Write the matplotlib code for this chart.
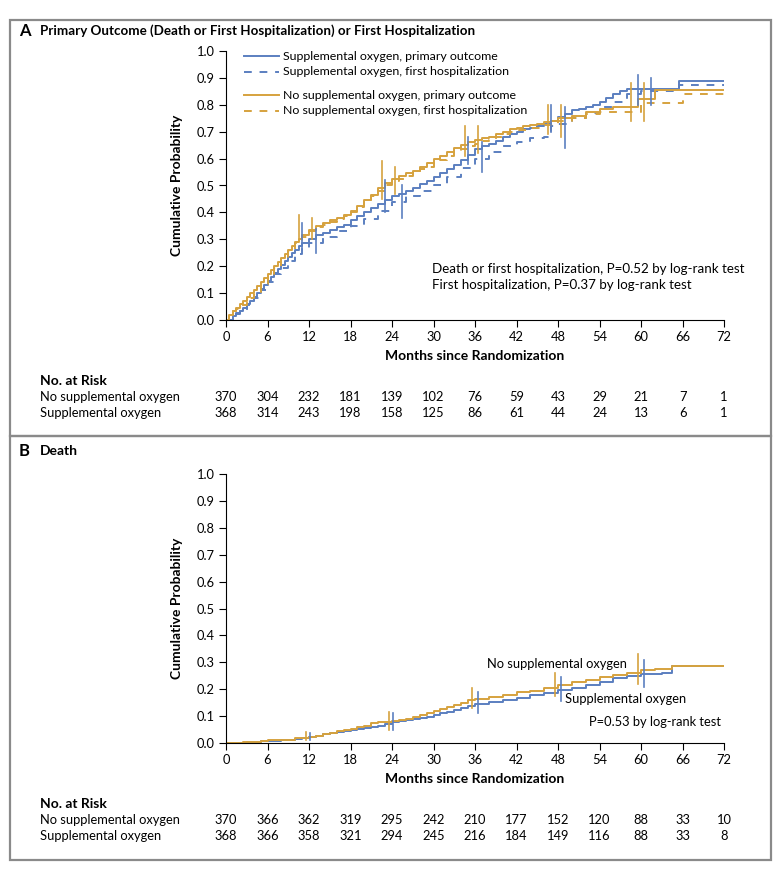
import numpy as np
import matplotlib.pyplot as plt
from matplotlib.patches import Rectangle
from matplotlib.lines import Line2D
import matplotlib.transforms as mtransforms

plt.rcParams['font.family'] = ['Lato', 'DejaVu Sans']

BLUE = '#5b7fc0'
ORANGE = '#d6a23e'

# ---- Panel A data (months, cumulative probability) ----
a_no_prim_t = [0, 0.5, 1, 1.5, 2, 2.5, 3, 3.5, 4, 4.5, 5, 5.5, 6, 6.5, 7, 7.5, 8, 8.5, 9, 9.5, 10,
               10.5, 11, 12, 13, 14, 15, 16, 17, 18, 19, 20, 21, 22, 23, 24, 25, 26, 27, 28, 29, 30,
               31, 32, 33, 34, 35, 36, 37, 38, 39, 40, 41, 42, 43, 44, 45, 46, 47, 48, 50, 52, 54,
               56, 59.5, 62, 72]
a_no_prim_p = [0, 0.02, 0.035, 0.045, 0.06, 0.07, 0.085, 0.10, 0.11, 0.125, 0.14, 0.155, 0.17, 0.185,
               0.20, 0.215, 0.23, 0.245, 0.26, 0.275, 0.29, 0.30, 0.315, 0.335, 0.35, 0.36, 0.37, 0.38,
               0.39, 0.405, 0.425, 0.445, 0.465, 0.49, 0.51, 0.525, 0.535, 0.545, 0.555, 0.57, 0.585,
               0.60, 0.61, 0.625, 0.64, 0.65, 0.66, 0.67, 0.675, 0.68, 0.69, 0.70, 0.71, 0.715, 0.72,
               0.725, 0.73, 0.735, 0.74, 0.75, 0.76, 0.775, 0.785, 0.79, 0.82, 0.855, 0.855]

a_no_hosp_t = [0, 0.5, 1, 1.5, 2, 3, 4, 5, 6, 7, 8, 9, 10, 11, 12, 13, 14, 15, 16, 17, 18, 19, 20,
               21, 22, 23, 24, 25, 26, 27, 28, 29, 30, 31, 32, 33, 34, 35, 36, 37, 38, 39, 40, 41,
               42, 44, 46, 48, 50, 52, 54, 58, 60, 66, 72]
a_no_hosp_p = [0, 0.018, 0.032, 0.042, 0.055, 0.08, 0.105, 0.135, 0.165, 0.195, 0.225, 0.255, 0.285,
               0.31, 0.33, 0.345, 0.355, 0.365, 0.375, 0.385, 0.40, 0.42, 0.44, 0.46, 0.48, 0.50,
               0.515, 0.525, 0.535, 0.545, 0.56, 0.57, 0.585, 0.595, 0.61, 0.625, 0.635, 0.645, 0.655,
               0.665, 0.67, 0.68, 0.69, 0.70, 0.705, 0.715, 0.725, 0.74, 0.75, 0.765, 0.775, 0.775,
               0.805, 0.84, 0.84]

a_sup_prim_t = [0, 1, 1.5, 2, 2.5, 3, 3.5, 4, 4.5, 5, 5.5, 6, 6.5, 7, 7.5, 8, 8.5, 9, 9.5, 10, 10.5,
                11, 12, 13, 14, 15, 16, 17, 18, 19, 20, 21, 22, 23, 24, 25, 26, 27, 28, 29, 30, 31,
                32, 33, 34, 35, 36, 37, 38, 39, 40, 41, 42, 43, 44, 45, 46, 47, 48, 49, 50, 51, 52,
                53, 54, 55, 56, 57, 58, 65.5, 72]
a_sup_prim_p = [0, 0.015, 0.025, 0.035, 0.045, 0.06, 0.07, 0.085, 0.10, 0.115, 0.13, 0.145, 0.16, 0.175,
                0.19, 0.205, 0.22, 0.235, 0.25, 0.26, 0.275, 0.285, 0.30, 0.315, 0.325, 0.335, 0.345,
                0.355, 0.37, 0.385, 0.40, 0.415, 0.43, 0.445, 0.46, 0.47, 0.48, 0.49, 0.505, 0.515,
                0.53, 0.545, 0.56, 0.575, 0.595, 0.615, 0.635, 0.645, 0.655, 0.665, 0.68, 0.69, 0.70,
                0.71, 0.715, 0.72, 0.73, 0.74, 0.755, 0.765, 0.78, 0.785, 0.79, 0.80, 0.81, 0.825,
                0.84, 0.85, 0.86, 0.89, 0.89]

a_sup_hosp_t = [0, 1, 1.5, 2, 3, 4, 5, 6, 7, 8, 9, 10, 11, 12, 14, 16, 18, 20, 22, 24, 26, 28, 30,
                32, 34, 36, 38, 40, 42, 44, 46, 47, 48, 50, 52, 54, 56, 58, 60, 65.5, 72]
a_sup_hosp_p = [0, 0.012, 0.022, 0.032, 0.055, 0.08, 0.11, 0.14, 0.17, 0.195, 0.22, 0.245, 0.265,
                0.285, 0.31, 0.33, 0.35, 0.375, 0.405, 0.44, 0.46, 0.48, 0.50, 0.53, 0.565, 0.60,
                0.625, 0.645, 0.66, 0.675, 0.68, 0.72, 0.73, 0.75, 0.77, 0.79, 0.81, 0.84, 0.85,
                0.875, 0.875]

# 95% CI bars (month, low, high)
a_no_prim_ci = [(10.5, 0.30, 0.39), (22.5, 0.45, 0.59), (34.5, 0.61, 0.72), (46.5, 0.69, 0.80), (58.5, 0.74, 0.88)]
a_no_hosp_ci = [(12.5, 0.30, 0.38), (24.5, 0.47, 0.57), (36.5, 0.62, 0.72), (48.5, 0.68, 0.80), (60.5, 0.74, 0.88)]
a_sup_prim_ci = [(11.0, 0.26, 0.36), (23.0, 0.40, 0.52), (35.0, 0.58, 0.68), (47.0, 0.70, 0.80), (59.5, 0.80, 0.91)]
a_sup_hosp_ci = [(13.0, 0.25, 0.34), (25.5, 0.38, 0.50), (37.0, 0.55, 0.66), (49.0, 0.64, 0.79), (61.5, 0.80, 0.90)]

# ---- Panel B data ----
b_no_t = [0, 2.5, 3.5, 5, 6, 8, 10, 11, 12, 13, 14, 15, 16, 17, 18, 19, 20, 21, 22, 23, 24, 25, 26,
          27, 28, 29, 30, 31, 32, 33, 34, 35, 36, 38, 40, 42, 44, 46, 48, 50, 52, 54, 56, 58, 60,
          62, 64.5, 72]
b_no_p = [0, 0.002, 0.005, 0.008, 0.01, 0.013, 0.017, 0.02, 0.022, 0.027, 0.032, 0.038, 0.043, 0.047,
          0.052, 0.058, 0.065, 0.075, 0.077, 0.078, 0.08, 0.084, 0.09, 0.097, 0.104, 0.11, 0.118,
          0.126, 0.134, 0.142, 0.15, 0.158, 0.165, 0.172, 0.178, 0.188, 0.195, 0.205, 0.215, 0.225,
          0.235, 0.245, 0.252, 0.26, 0.27, 0.275, 0.288, 0.288]

b_sup_t = [0, 3, 4, 5, 6, 8, 10, 11, 12, 13, 14, 15, 16, 17, 18, 19, 20, 21, 22, 23, 24, 25, 26,
           27, 28, 29, 30, 31, 32, 33, 34, 35, 36, 38, 40, 42, 44, 46, 48, 50, 52, 54, 56, 58, 60,
           63, 64.5, 72]
b_sup_p = [0, 0.002, 0.004, 0.006, 0.008, 0.012, 0.016, 0.019, 0.022, 0.027, 0.032, 0.037, 0.042,
           0.046, 0.05, 0.052, 0.055, 0.058, 0.065, 0.072, 0.077, 0.08, 0.084, 0.088, 0.093, 0.098,
           0.104, 0.11, 0.116, 0.122, 0.13, 0.138, 0.145, 0.152, 0.16, 0.167, 0.177, 0.187, 0.197,
           0.205, 0.215, 0.228, 0.24, 0.25, 0.255, 0.26, 0.285, 0.285]

b_no_ci = [(11.5, 0.012, 0.04), (23.5, 0.05, 0.115), (35.5, 0.13, 0.205), (47.5, 0.175, 0.26), (59.5, 0.22, 0.33)]
b_sup_ci = [(12.2, 0.012, 0.038), (24.2, 0.048, 0.11), (36.5, 0.11, 0.19), (48.5, 0.155, 0.245), (60.5, 0.21, 0.31)]

months = np.arange(0, 73, 6)
risk_a_no = [370, 304, 232, 181, 139, 102, 76, 59, 43, 29, 21, 7, 1]
risk_a_sup = [368, 314, 243, 198, 158, 125, 86, 61, 44, 24, 13, 6, 1]
risk_b_no = [370, 366, 362, 319, 295, 242, 210, 177, 152, 120, 88, 33, 10]
risk_b_sup = [368, 366, 358, 321, 294, 245, 216, 184, 149, 116, 88, 33, 8]

W, H = 780, 872
fig = plt.figure(figsize=(W / 100, H / 100), dpi=100)

FS = 9.3


def fx(px):
    return px / W


def fy(py):
    return 1 - py / H


def style_axes(ax):
    ax.set_xlim(0, 72)
    ax.set_ylim(0, 1.0)
    ax.set_xticks(months)
    ax.set_yticks(np.arange(0, 1.01, 0.1))
    ax.set_yticklabels(['%.1f' % v for v in np.arange(0, 1.01, 0.1)])
    ax.spines['top'].set_visible(False)
    ax.spines['right'].set_visible(False)
    ax.spines['left'].set_linewidth(0.8)
    ax.spines['bottom'].set_linewidth(0.8)
    ax.tick_params(direction='out', length=5, width=0.8, labelsize=FS, pad=3)
    ax.set_xlabel('Months since Randomization', fontsize=10, fontweight='bold', labelpad=5)
    ax.set_ylabel('Cumulative Probability', fontsize=10, fontweight='bold', labelpad=10)


def ci_bars(ax, bars, color):
    for t, lo, hi in bars:
        ax.plot([t, t], [lo, hi], color=color, lw=1.2, clip_on=False)


def risk_table(ax, y_head, rows):
    tr = mtransforms.blended_transform_factory(ax.transData, fig.transFigure)
    fig.text(fx(40), fy(y_head), 'No. at Risk', fontsize=10, fontweight='bold', va='center')
    for i, (label, vals) in enumerate(rows):
        yy = fy(y_head + 16 * (i + 1))
        fig.text(fx(40), yy, label, fontsize=FS, va='center')
        for m, v in zip(months, vals):
            ax.text(m, yy, str(v), transform=tr, fontsize=FS, ha='center', va='center')


# frames
for top, bot in [(20, 436), (436, 860)]:
    fig.add_artist(Rectangle((fx(10), fy(bot)), fx(771) - fx(10), fy(top) - fy(bot),
                             transform=fig.transFigure, fill=False, edgecolor='#8a8a8a', lw=1.6))

# ---------------- Panel A ----------------
axA = fig.add_axes([fx(226), fy(320), fx(724) - fx(226), fy(51) - fy(320)])
axA.step(a_sup_prim_t, a_sup_prim_p, where='post', color=BLUE, lw=1.4)
axA.step(a_sup_hosp_t, a_sup_hosp_p, where='post', color=BLUE, lw=1.4, linestyle=(0, (4, 4)))
axA.step(a_no_prim_t, a_no_prim_p, where='post', color=ORANGE, lw=1.4)
axA.step(a_no_hosp_t, a_no_hosp_p, where='post', color=ORANGE, lw=1.4, linestyle=(0, (4, 4)))
ci_bars(axA, a_no_prim_ci, ORANGE)
ci_bars(axA, a_no_hosp_ci, ORANGE)
ci_bars(axA, a_sup_prim_ci, BLUE)
ci_bars(axA, a_sup_hosp_ci, BLUE)
style_axes(axA)

leg = [(BLUE, '-', 'Supplemental oxygen, primary outcome', 0.981),
       (BLUE, (0, (4, 4)), 'Supplemental oxygen, first hospitalization', 0.922),
       (ORANGE, '-', 'No supplemental oxygen, primary outcome', 0.836),
       (ORANGE, (0, (4, 4)), 'No supplemental oxygen, first hospitalization', 0.777)]
for c, ls, txt, yy in leg:
    axA.add_line(Line2D([0.036, 0.106], [yy, yy], transform=axA.transAxes, color=c, lw=1.4, linestyle=ls))
    axA.text(0.114, yy, txt, transform=axA.transAxes, fontsize=8.9, va='center')

axA.text(29.8, 0.19, 'Death or first hospitalization, P=0.52 by log-rank test', fontsize=9.6, va='center')
axA.text(29.8, 0.13, 'First hospitalization, P=0.37 by log-rank test', fontsize=9.6, va='center')

fig.text(fx(19), fy(31), 'A', fontsize=12, fontweight='bold', va='center')
fig.text(fx(40), fy(31), 'Primary Outcome (Death or First Hospitalization) or First Hospitalization',
         fontsize=9.6, fontweight='bold', va='center')
risk_table(axA, 381, [('No supplemental oxygen', risk_a_no), ('Supplemental oxygen', risk_a_sup)])

# ---------------- Panel B ----------------
axB = fig.add_axes([fx(226), fy(743), fx(724) - fx(226), fy(474) - fy(743)])
axB.step(b_sup_t, b_sup_p, where='post', color=BLUE, lw=1.4)
axB.step(b_no_t, b_no_p, where='post', color=ORANGE, lw=1.4)
ci_bars(axB, b_no_ci, ORANGE)
ci_bars(axB, b_sup_ci, BLUE)
style_axes(axB)

axB.text(47.8, 0.294, 'No supplemental oxygen', fontsize=FS, ha='center', va='center')
axB.text(57.8, 0.164, 'Supplemental oxygen', fontsize=FS, ha='center', va='center')
axB.text(71.6, 0.078, 'P=0.53 by log-rank test', fontsize=FS, ha='right', va='center')

fig.text(fx(19), fy(451), 'B', fontsize=12, fontweight='bold', va='center')
fig.text(fx(40), fy(451), 'Death', fontsize=10, fontweight='bold', va='center')
risk_table(axB, 804, [('No supplemental oxygen', risk_b_no), ('Supplemental oxygen', risk_b_sup)])

fig.savefig('out.png', dpi=100, facecolor='white')
